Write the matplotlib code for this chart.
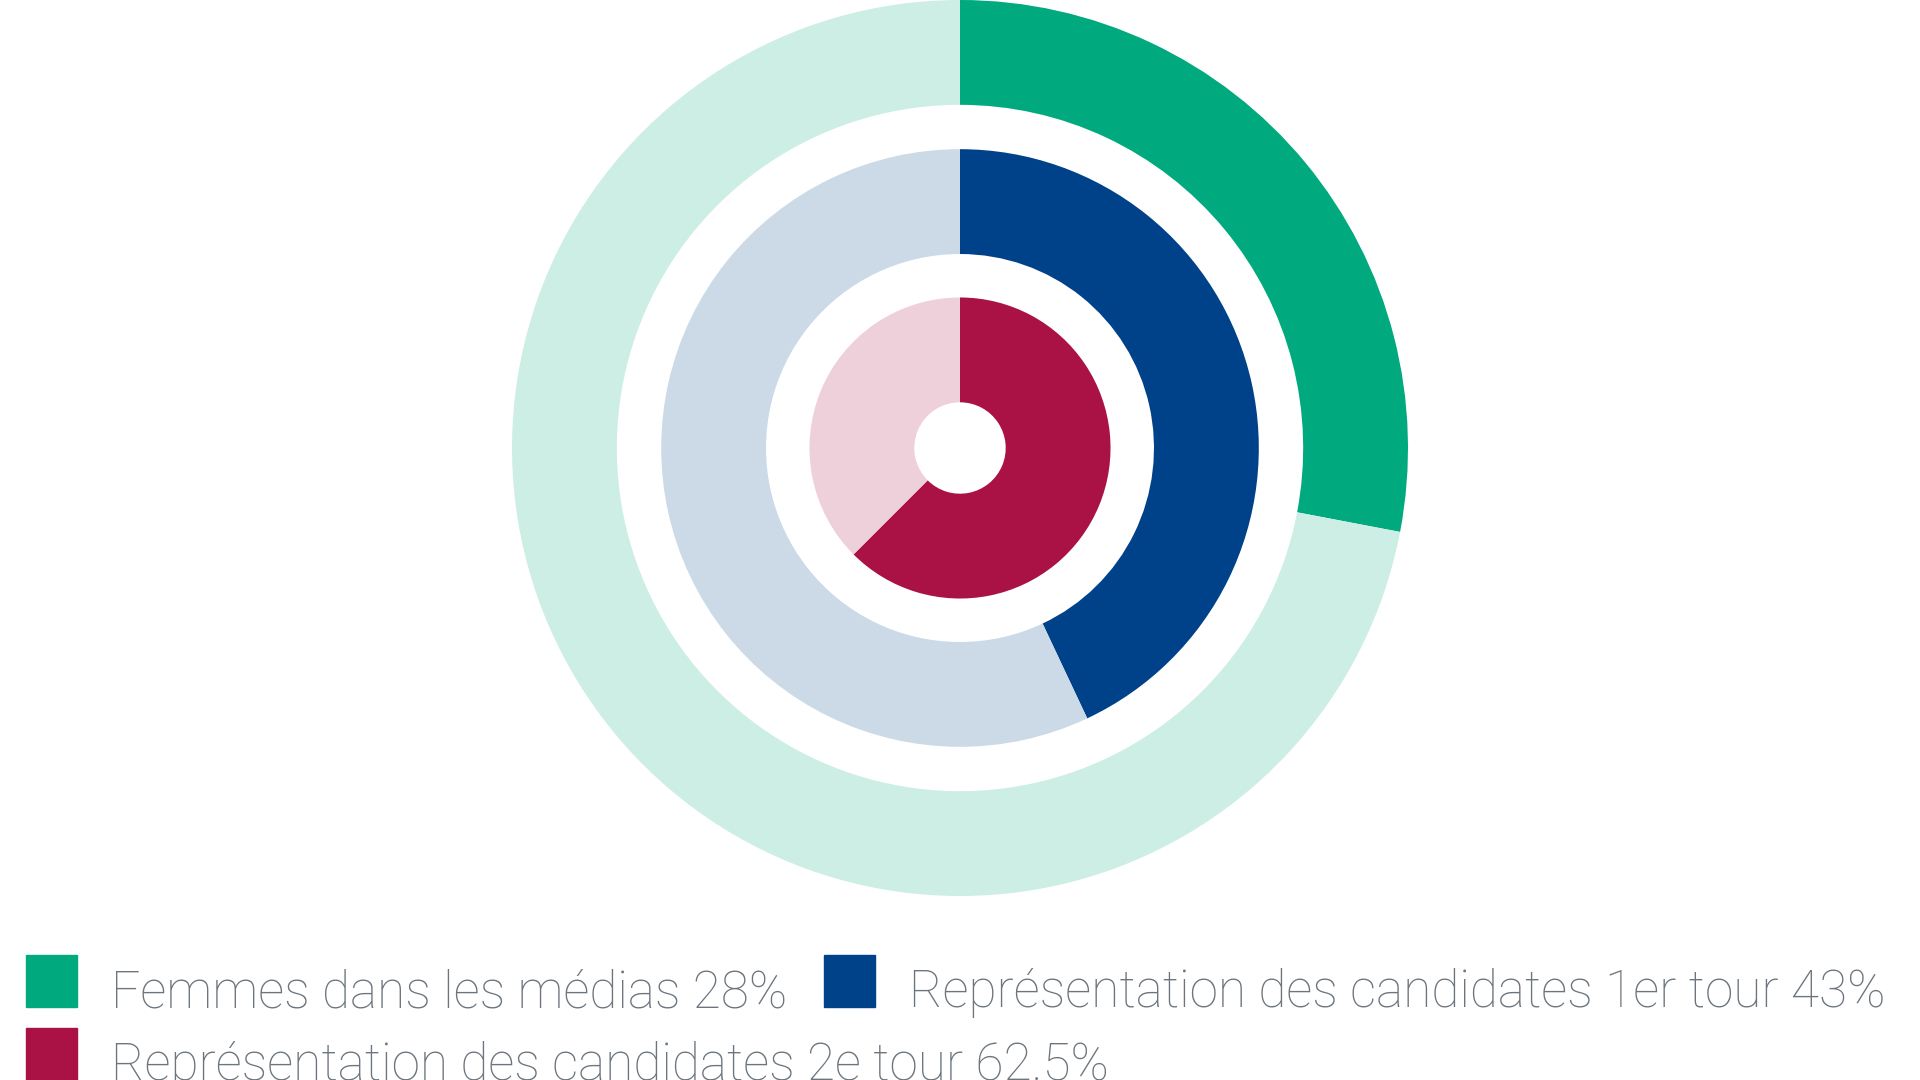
import matplotlib.pyplot as plt
from matplotlib.patches import Rectangle

# donnees
labels = ['Femmes dans les médias 28%',
          'Représentation des candidates 1er tour 43%',
          'Représentation des candidates 2e tour 62.5%']
valeurs = [28, 43, 62.5]
couleurs = ['#00A97E', '#00428A', '#AA1245']
couleurs_fond = ['#CDEEE4', '#CCDAE7', '#EED0DB']
rayons = [1.0, 0.667, 0.336]
largeur = 0.234

plt.rcParams['font.family'] = ['Roboto', 'DejaVu Sans']

fig = plt.figure(figsize=(19.2, 10.8), dpi=100)
ax = fig.add_axes([512 / 1920, 184 / 1080, 896 / 1920, 896 / 1080])

for v, c, cf, r in zip(valeurs, couleurs, couleurs_fond, rayons):
    ax.pie([v, 100 - v], colors=[c, cf], radius=r, startangle=90,
           counterclock=False, wedgeprops=dict(width=largeur, linewidth=0))

ax.set_xlim(-1, 1)
ax.set_ylim(-1, 1)
ax.set_aspect('equal')
ax.axis('off')

# legende faite a la main (disposition en ligne)
pos_legende = [(26, 955), (824, 955), (26, 1028)]
for (x, y), lab, c in zip(pos_legende, labels, couleurs):
    fig.patches.append(Rectangle((x / 1920, 1 - (y + 52) / 1080), 51 / 1920, 52 / 1080,
                                 transform=fig.transFigure, color=c))
    fig.text((x + 85) / 1920, 1 - (y + 38) / 1080, lab, fontsize=37, color='#6C757D',
             fontweight='light', va='center', ha='left')

fig.savefig('out.png', dpi=100, facecolor='white')
